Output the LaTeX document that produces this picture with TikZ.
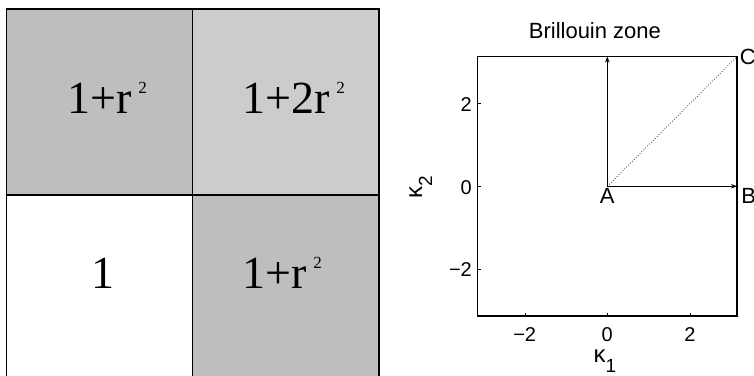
\documentclass[tikz,border=0pt]{standalone}
\usepackage{fontspec}
\setmainfont{Liberation Serif}
\newfontfamily\helv{Liberation Sans}
\usetikzlibrary{
    positioning,
    arrows.meta
}
\definecolor{celdaOscura}{RGB}{190,190,190}
\definecolor{celdaClara}{RGB}{204,204,204}
\newcommand{\rcuad}{\hspace{7pt}\raisebox{20pt}{\fontsize{17}{17}\selectfont 2}}
\newcommand{\kapsub}[1]{{\fontsize{24}{24}\selectfont κ}\raisebox{-10pt}{\fontsize{19}{19}\selectfont #1}}
\tikzset{
    >={Stealth[length=6pt,width=4.5pt]},
    celda/.style={
        draw,
        line width=1.2pt
    },
    valor/.style={
        anchor=base west,
        inner sep=0pt,
        font=\fontsize{46}{46}\selectfont
    },
    tic/.style={
        inner sep=0pt,
        font=\helv\fontsize{20}{20}\selectfont
    },
    punto/.style={
        inner sep=0pt,
        font=\helv\fontsize{22}{22}\selectfont
    },
    eje/.style={
        inner sep=0pt,
        anchor=base,
        font=\helv
    }
}
\begin{document}
\begin{tikzpicture}[
    x=1pt, y=1pt
]
    \useasboundingbox (0,0) rectangle (754,375);

    % Celdas
    \filldraw[celda, fill=celdaOscura] (6.5,180)    rectangle (192.75,366);
    \filldraw[celda, fill=celdaClara]  (192.75,180) rectangle (379,366);
    \draw[celda]                       (6.5,-10)    rectangle (192.75,180);
    \filldraw[celda, fill=celdaOscura] (192.75,-10) rectangle (379,180);

    % Valores
    \node[valor] (v11) at (67,261)  {1+r\rcuad};
    \node[valor] (v12) at (242,261) {1+2r\rcuad};
    \node[valor] (v21) at (91,87)   {1};
    \node[valor] (v22) at (242,87)  {1+r\rcuad};

    % Zona de Brillouin
    \begin{scope}[shift={(607.3,188.7)}, x=41.3pt, y=41.3pt]

        % Puntos
        \coordinate (A)  at (0,0);
        \coordinate (B)  at (3.1416,0);
        \coordinate (C)  at (3.1416,3.1416);
        \coordinate (T)  at (0,3.1416);
        \coordinate (SW) at (-3.1416,-3.1416);

        \draw[line width=1.2pt] (SW) rectangle (C);

        % Marcas
        \foreach \t/\e in {-2/−2, 0/0, 2/2} {
            \draw (\t,-3.1416) -- ++(0,3pt);
            \draw (-3.1416,\t) -- ++(3pt,0);
            \node[tic, anchor=north, yshift=-11.5pt] (mx\t) at (\t,-3.1416) {\e};
            \node[tic, anchor=east, xshift=-5.5pt, yshift=-1pt] (my\t) at (-3.1416,\t) {\e};
        }

        \node[eje, font=\helv\fontsize{22}{22}\selectfont] (titulo) at (-0.3,3.584) {Brillouin zone};

        % Caminos
        \path[line width=0.9pt]
            (A)
                edge[->] (T)
                edge[->] (B);
        \draw[dotted, line width=0.7pt] (A) -- (C);

        % Etiquetas
        \node[punto, anchor=north, yshift=-1.7pt]                  (etA) at (A) {A};
        \node[punto, anchor=north west, xshift=4pt, yshift=-1.7pt] (etB) at (B) {B};
        \node[punto, anchor=west, xshift=2.5pt]                    (etC) at (C) {C};

    \end{scope}

    % Ejes
    \node[eje]            (ejeX) at (605,13)  {\kapsub{1}};
    \node[eje, rotate=90] (ejeY) at (422,188) {\kapsub{2}};

\end{tikzpicture}
\end{document}
